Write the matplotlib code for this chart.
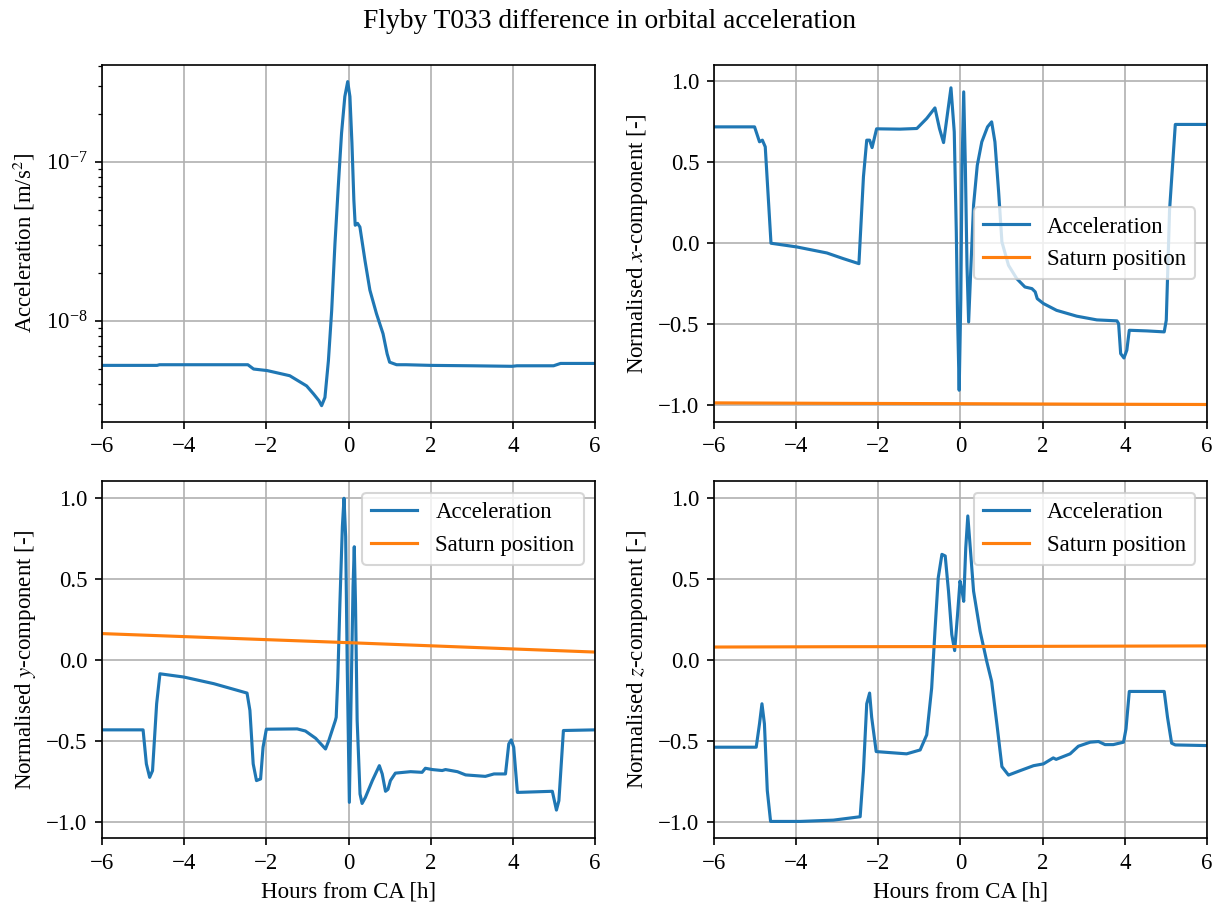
import matplotlib
matplotlib.use("Agg")
import matplotlib.pyplot as plt

plt.rcParams['font.family'] = ['Liberation Serif', 'DejaVu Serif']
plt.rcParams['mathtext.fontset'] = 'stix'
plt.rcParams['font.size'] = 11

# total acceleration difference (log scale)
t_acc = [-6.0, -4.66, -4.6, -2.45, -2.31, -1.98, -1.43, -1.02, -0.85, -0.72, -0.655,
         -0.574, -0.49, -0.41, -0.33, -0.25, -0.17, -0.09, -0.02, 0.034, 0.083, 0.13,
         0.163, 0.22, 0.277, 0.4, 0.52, 0.68, 0.84, 0.94, 1.0, 1.17, 1.4, 2.0, 3.0,
         3.98, 4.1, 4.99, 5.16, 6.0]
acc = [5.25e-9, 5.25e-9, 5.3e-9, 5.3e-9, 4.98e-9, 4.87e-9, 4.52e-9, 3.9e-9, 3.47e-9,
       3.15e-9, 2.93e-9, 3.3e-9, 5.6e-9, 1.16e-8, 3.06e-8, 6.96e-8, 1.51e-7, 2.57e-7,
       3.19e-7, 2.57e-7, 1.31e-7, 5.74e-8, 3.99e-8, 4.1e-8, 3.89e-8, 2.4e-8, 1.56e-8,
       1.11e-8, 8.3e-9, 6.2e-9, 5.5e-9, 5.3e-9, 5.3e-9, 5.25e-9, 5.22e-9,
       5.18e-9, 5.22e-9, 5.22e-9, 5.4e-9, 5.4e-9]

# normalised x-component
t_x = [-6.0, -5.01, -4.89, -4.82, -4.75, -4.61, -3.98, -3.25, -2.85, -2.47, -2.36,
       -2.28, -2.21, -2.15, -2.04, -1.47, -1.06, -0.82, -0.62, -0.51, -0.41, -0.32,
       -0.23, -0.15, -0.1, -0.07, -0.03, 0.01, 0.04, 0.08, 0.12, 0.16, 0.2, 0.25,
       0.32, 0.41, 0.52, 0.66, 0.76, 0.84, 0.93, 1.01, 1.17, 1.37, 1.57, 1.74, 1.82,
       1.87, 2.02, 2.34, 2.83, 3.32, 3.81, 3.85, 3.9, 3.98, 4.05, 4.11, 4.54, 4.96,
       5.01, 5.09, 5.23, 6.0]
acc_x = [0.718, 0.718, 0.626, 0.636, 0.595, 0.0, -0.023, -0.06, -0.095, -0.126, 0.41,
         0.636, 0.636, 0.59, 0.706, 0.704, 0.708, 0.77, 0.835, 0.708, 0.621, 0.79,
         0.959, 0.687, 0.07, -0.444, -0.907, -0.34, 0.48, 0.934, 0.48, -0.136, -0.486, -0.177,
         0.235, 0.48, 0.625, 0.718, 0.749, 0.625, 0.317, 0.008, -0.136, -0.218, -0.27, -0.28, -0.30,
         -0.342, -0.372, -0.414, -0.45, -0.473, -0.479, -0.496, -0.681, -0.708, -0.66, -0.537, -0.541, -0.547,
         -0.475, 0.204, 0.733, 0.733]
t_sat = [-6.0, -3.0, 0.0, 3.0, 6.0]
sat_x = [-0.985, -0.988, -0.99, -0.993, -0.995]

# normalised y-component
t_y = [-6.0, -5.0, -4.92, -4.84, -4.77, -4.67, -4.59, -4.01, -3.28, -2.47, -2.4,
       -2.32, -2.24, -2.14, -2.08, -2.0, -1.25, -1.05, -0.8, -0.6, -0.56, -0.48, -0.4,
       -0.32, -0.3, -0.26, -0.21, -0.15, -0.11, -0.07, -0.03, 0.02, 0.06, 0.11, 0.14,
       0.17, 0.21, 0.28, 0.33, 0.41, 0.58, 0.75, 0.82, 0.9, 0.96, 1.02, 1.14, 1.51,
       1.79, 1.87, 2.04, 2.28, 2.36, 2.65, 2.85, 3.33, 3.54, 3.82, 3.9, 3.96, 4.02,
       4.11, 4.96, 5.01, 5.06, 5.12, 5.23, 6.0]
acc_y = [-0.433, -0.433, -0.643, -0.726, -0.685, -0.272, -0.087, -0.107, -0.148, -0.206, -0.313,
         -0.643, -0.746, -0.736, -0.54, -0.429, -0.427, -0.44, -0.485, -0.54, -0.551, -0.499, -0.437,
         -0.375, -0.355, -0.107, 0.346, 0.82, 0.996, 0.76, -0.066, -0.88, -0.27, 0.45, 0.697,
         0.346, -0.375, -0.829, -0.887, -0.85, -0.746, -0.654, -0.705, -0.812, -0.8, -0.746, -0.70, -0.691,
         -0.695, -0.67, -0.678, -0.684, -0.678, -0.691, -0.711, -0.72, -0.705, -0.705, -0.52, -0.495, -0.54,
         -0.819, -0.812, -0.87, -0.928, -0.87, -0.437, -0.433]
sat_y = [0.161, 0.133, 0.105, 0.076, 0.047]

# normalised z-component
t_z = [-6.0, -4.97, -4.89, -4.83, -4.77, -4.7, -4.62, -3.9, -3.09, -2.44, -2.36,
       -2.28, -2.21, -2.16, -2.05, -1.31, -0.98, -0.82, -0.7, -0.62, -0.54, -0.45,
       -0.37, -0.29, -0.21, -0.14, -0.07, -0.01, 0.04, 0.08, 0.13, 0.18, 0.24, 0.32,
       0.48, 0.64, 0.76, 0.89, 1.01, 1.17, 1.45, 1.78, 2.02, 2.26, 2.33,
       2.67, 2.87, 3.16, 3.36, 3.52, 3.72, 3.97, 4.03, 4.11, 4.96, 5.04, 5.14, 5.23, 6.0]
acc_z = [-0.54, -0.54, -0.396, -0.272, -0.396, -0.808, -0.998, -0.998, -0.99, -0.969, -0.685,
         -0.272, -0.206, -0.355, -0.567, -0.581, -0.557, -0.464, -0.176, 0.175, 0.505, 0.65,
         0.64, 0.423, 0.155, 0.056, 0.278, 0.485, 0.423, 0.36, 0.69, 0.887, 0.69, 0.423,
         0.175, -0.01, -0.134, -0.402, -0.66, -0.712, -0.685, -0.654, -0.643, -0.606, -0.615,
         -0.581, -0.534, -0.509, -0.505, -0.524, -0.524, -0.509, -0.427, -0.196, -0.196, -0.355, -0.515, -0.526, -0.53]
sat_z = [0.078, 0.080, 0.081, 0.083, 0.085]

fig, axs = plt.subplots(2, 2, figsize=(1220 / 150, 906 / 150), dpi=150)
fig.subplots_adjust(left=0.0836, right=0.9893, top=0.9283, bottom=0.0751,
                    hspace=0.168, wspace=0.241)
fig.suptitle("Flyby T033 difference in orbital acceleration", y=1 - 21 / 906, va='center')

ax = axs[0, 0]
ax.plot(t_acc, acc, linewidth=1.5)
ax.set_yscale('log')
ax.set_ylim(2.33e-9, 4.06e-7)
ax.set_ylabel("Acceleration [m/s$^2$]")

panels = [(axs[0, 1], t_x, acc_x, sat_x, "Normalised $x$-component [-]", 'center right'),
          (axs[1, 0], t_y, acc_y, sat_y, "Normalised $y$-component [-]", 'upper right'),
          (axs[1, 1], t_z, acc_z, sat_z, "Normalised $z$-component [-]", 'upper right')]
for ax, t, a, s, label, loc in panels:
    ax.plot(t, a, linewidth=1.5, label="Acceleration")
    ax.plot(t_sat, s, linewidth=1.5, label="Saturn position")
    ax.set_ylim(-1.1, 1.1)
    ax.set_yticks([-1.0, -0.5, 0.0, 0.5, 1.0])
    ax.set_ylabel(label)
    ax.legend(loc=loc)

for ax in axs.flat:
    ax.set_xlim(-6, 6)
    ax.grid(True)
for ax in axs[1]:
    ax.set_xlabel("Hours from CA [h]")

fig.savefig("out.png", dpi=150)
